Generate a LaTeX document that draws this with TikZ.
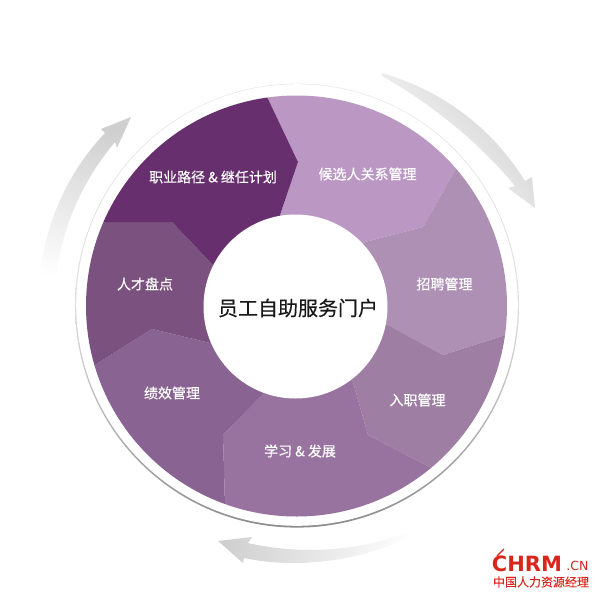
\documentclass[tikz,border=0pt]{standalone}
\usepackage{fontspec}
\setmainfont{Noto Sans CJK SC}
\newfontfamily\midfont[FakeBold=0.35]{Noto Sans CJK SC}
\newfontfamily\logofont{DejaVu Sans}
\definecolor{plumA}{HTML}{682F6E}
\definecolor{plumB}{HTML}{BB97C3}
\definecolor{plumC}{HTML}{AE90B4}
\definecolor{plumD}{HTML}{9F7EA3}
\definecolor{plumE}{HTML}{98739F}
\definecolor{plumF}{HTML}{896391}
\definecolor{plumG}{HTML}{7B527F}
\definecolor{arrowgray}{HTML}{CFCFCF}
\definecolor{logored}{HTML}{D9261C}
\tikzset{
  seglabel/.style={text=white, font=\midfont\fontsize{14}{14}\selectfont, inner sep=0pt},
  turnarrow/.style={top color=arrowgray, bottom color=white, shading angle=#1}
}
\begin{document}
\begin{tikzpicture}[x=1pt, y=-1pt]
\useasboundingbox (0,0) rectangle (600,600);
\shade[top color=black!10, bottom color=black!45, middle color=black!13] (297,305.6) circle [radius=222pt];
\fill[white] (297,305) circle [radius=220.8pt];
\begin{scope}
\clip (296.5,306) circle [radius=210.5pt];
\fill[plumB] (259,80) -- (298,162) -- (280,215) -- (300,306) -- (365,242) -- (423,227) -- (472,140) -- (400,60) -- cycle;
\fill[plumC] (472,140) -- (423,227) -- (365,242) -- (300,306) -- (388,325) -- (443,355) -- (540,324) -- (540,140) -- cycle;
\fill[plumD] (540,324) -- (443,355) -- (388,325) -- (300,306) -- (353,382) -- (368,435) -- (470,488) -- (540,400) -- cycle;
\fill[plumE] (470,488) -- (368,435) -- (353,382) -- (300,306) -- (262,395) -- (223,435) -- (226,540) -- (400,540) -- cycle;
\fill[plumF] (226,540) -- (223,435) -- (262,395) -- (300,306) -- (210,343) -- (152,329) -- (60,387) -- (60,500) -- cycle;
\fill[plumG] (60,387) -- (152,329) -- (210,343) -- (300,306) -- (212,264) -- (172,222) -- (60,222) -- cycle;
\fill[plumA] (60,222) -- (172,222) -- (212,264) -- (300,306) -- (280,215) -- (298,162) -- (259,80) -- (100,60) -- cycle;
\end{scope}
\fill[white] (295.5,306.5) circle [radius=92pt];
\path[turnarrow=-50] (382,73) .. controls (440,90) and (490,125) .. (525,181) -- (532,177) -- (535,208) -- (508,188) -- (515,186) .. controls (480,143) and (430,103) .. (382,76) -- cycle;
\path[turnarrow=-15] (38,292) .. controls (42,230) and (65,175) .. (105,133) -- (101,129) -- (131,117) -- (117,148) -- (115,142) .. controls (85,178) and (60,225) .. (54,292) -- cycle;
\path[turnarrow=85] (417,528) .. controls (365,552) and (300,555) .. (248,543) -- (252,537) -- (218,541) -- (243,563) -- (244,558) .. controls (300,570) and (370,560) .. (417,532) -- cycle;
\node (center)[text=black!90, font=\midfont\fontsize{20}{20}\selectfont, inner sep=0pt] at (298,308) {员工自助服务门户};
\node (career)[seglabel] at (213,177) {职业路径 \& 继任计划};
\node (candidate)[seglabel] at (367.5,174) {候选人关系管理};
\node (hiring)[seglabel] at (444.5,284) {招聘管理};
\node (onboard)[seglabel] at (417.5,400) {入职管理};
\node (learning)[seglabel] at (300,451) {学习 \& 发展};
\node (performance)[seglabel] at (172,393) {绩效管理};
\node (talent)[seglabel] at (145,284) {人才盘点};
\node (chrm)[text=logored, font=\logofont\bfseries\fontsize{21}{21}\selectfont, inner sep=0pt] at (527,564) {CHRM};
\node (cn)[text=logored, font=\logofont\fontsize{12.5}{12.5}\selectfont, inner sep=0pt] at (577.5,566) {.CN};
\node (cnname)[text=logored, font=\midfont\fontsize{12}{12}\selectfont, inner sep=0pt] at (541,582) {中国人力资源经理};
\draw[logored, line width=1.2pt] (497,556) .. controls (499,553) and (502,552) .. (504,549);
\end{tikzpicture}
\end{document}
